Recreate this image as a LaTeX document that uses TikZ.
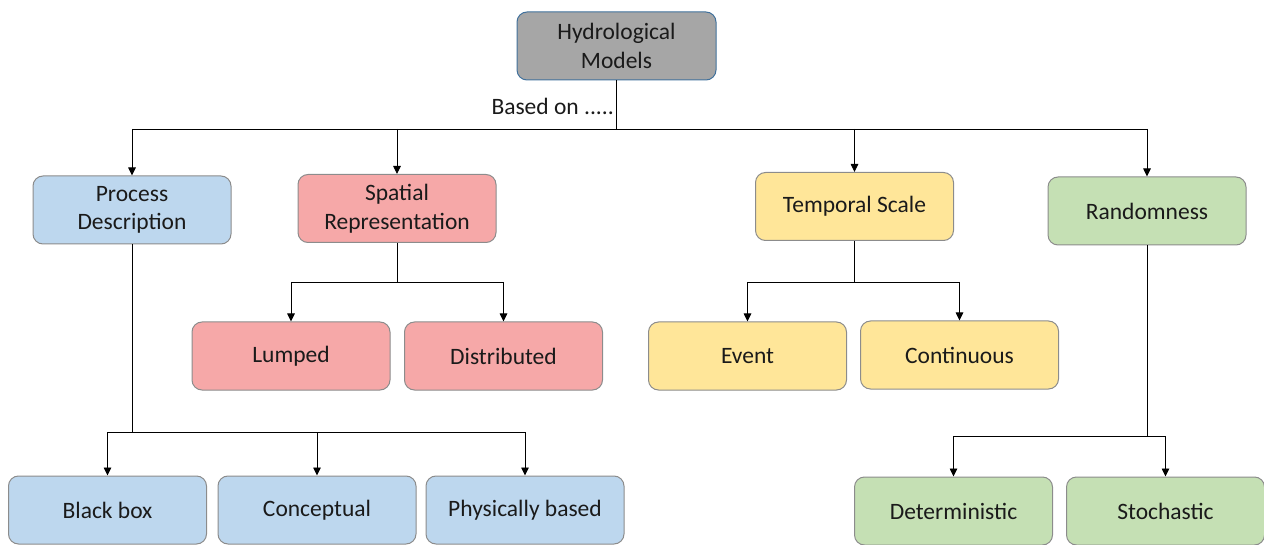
\documentclass[tikz,border=0pt]{standalone}
\usepackage{fontspec}
\setmainfont{Carlito}
\usetikzlibrary{arrows.meta}
\definecolor{topfill}{HTML}{A6A6A6}
\definecolor{topdraw}{HTML}{41719C}
\definecolor{bluefill}{HTML}{BDD7EE}
\definecolor{redfill}{HTML}{F6A8A8}
\definecolor{yelfill}{HTML}{FFE699}
\definecolor{grnfill}{HTML}{C5E0B4}
\definecolor{boxdraw}{HTML}{8C8C8C}
\definecolor{txt}{HTML}{1A1A1A}
\tikzset{
  box/.style={draw=boxdraw, line width=1pt, rounded corners=10pt, minimum width=198pt, minimum height=68pt, align=center, font=\fontsize{23.5}{28.5}\selectfont, text=txt, inner sep=0pt},
  conn/.style={line width=0.9pt, draw=black},
  arr/.style={conn, -{Triangle[length=8pt,width=7.5pt]}}
}
\begin{document}
\begin{tikzpicture}[x=1pt,y=-1pt]
\useasboundingbox (0,0) rectangle (1264,545);
\node[box, fill=topfill, draw=topdraw, minimum width=199pt] (hm) at (616.5,46) {Hydrological\\Models};
\node[font=\fontsize{23.5}{28}\selectfont, text=txt, anchor=east, inner sep=0pt] (based) at (614,106) {Based on .....};
\node[box, fill=bluefill] (pd) at (132,210) {Process\\Description};
\node[box, fill=redfill] (sr) at (397,208.5) {Spatial\\Representation};
\node[box, fill=yelfill] (ts) at (854.5,206.5) {Temporal Scale};
\node[box, fill=grnfill] (rd) at (1147,211) {Randomness};
\node[box, fill=redfill] (lu) at (291,356) {Lumped};
\node[box, fill=redfill] (di) at (503.5,356) {Distributed};
\node[box, fill=yelfill] (ev) at (747.5,356) {Event};
\node[box, fill=yelfill] (co) at (959.5,355) {Continuous};
\node[box, fill=bluefill] (bb) at (107.5,510) {Black box};
\node[box, fill=bluefill] (ce) at (317,510) {Conceptual};
\node[box, fill=bluefill] (pb) at (525,510) {Physically based};
\node[box, fill=grnfill] (de) at (953.5,511) {Deterministic};
\node[box, fill=grnfill] (st) at (1165.5,511) {Stochastic};
% top bus
\coordinate (bus) at (616.5,129);
\draw[conn] (hm.south) -- (bus);
\draw[conn] (pd.north |- bus) -- (rd.north |- bus);
\foreach \n in {pd,sr,ts,rd} \draw[arr] (\n.north |- bus) -- (\n.north);
% spatial
\coordinate (sbus) at (397,282);
\draw[conn] (sr.south) -- (sbus);
\draw[conn] (lu.north |- sbus) -- (di.north |- sbus);
\foreach \n in {lu,di} \draw[arr] (\n.north |- sbus) -- (\n.north);
% temporal
\coordinate (tbus) at (854.5,282);
\draw[conn] (ts.south) -- (tbus);
\draw[conn] (ev.north |- tbus) -- (co.north |- tbus);
\foreach \n in {ev,co} \draw[arr] (\n.north |- tbus) -- (\n.north);
% process
\coordinate (pbus) at (132,432);
\draw[conn] (pd.south) -- (pbus);
\draw[conn] (bb.north |- pbus) -- (pb.north |- pbus);
\foreach \n in {bb,ce,pb} \draw[arr] (\n.north |- pbus) -- (\n.north);
% randomness
\coordinate (rbus) at (1147,436);
\draw[conn] (rd.south) -- (rbus);
\draw[conn] (de.north |- rbus) -- (st.north |- rbus);
\foreach \n in {de,st} \draw[arr] (\n.north |- rbus) -- (\n.north);
\end{tikzpicture}
\end{document}
